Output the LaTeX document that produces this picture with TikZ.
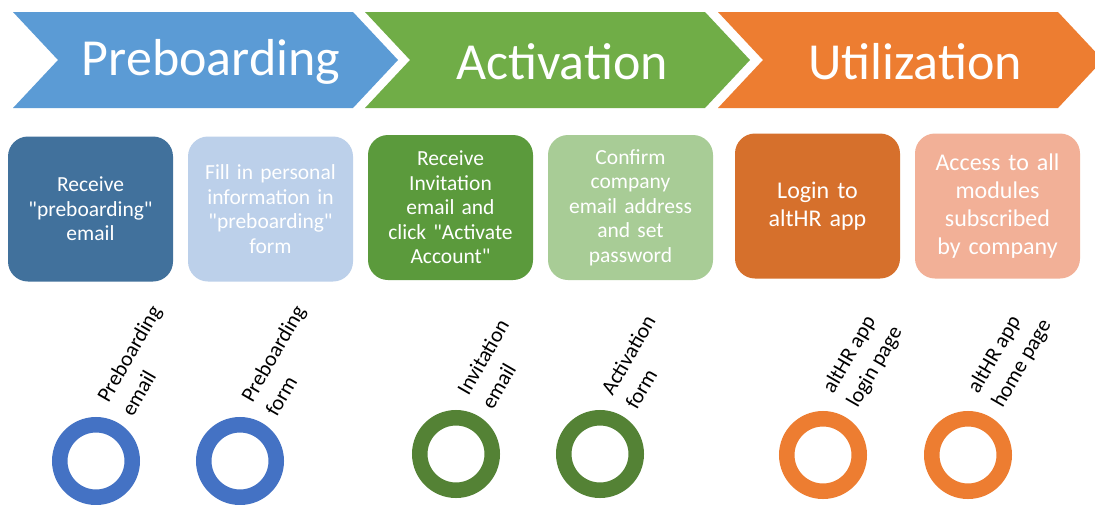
\documentclass[tikz,border=0pt]{standalone}
\usepackage{fontspec}
\setmainfont{Carlito}[Ligatures=TeXOff]
\definecolor{phaseblue}{HTML}{5B9BD5}
\definecolor{phasegreen}{HTML}{70AD47}
\definecolor{phaseorange}{HTML}{ED7D31}
\definecolor{boxA}{HTML}{41719C}
\definecolor{boxB}{HTML}{BCD0EA}
\definecolor{boxC}{HTML}{5B9A3C}
\definecolor{boxD}{HTML}{A8CC96}
\definecolor{boxE}{HTML}{D6702C}
\definecolor{boxF}{HTML}{F2B097}
\definecolor{ringblue}{HTML}{4472C4}
\definecolor{ringgreen}{HTML}{548235}
\definecolor{ringorange}{HTML}{ED7D31}
\begin{document}
\begin{tikzpicture}[x=1pt,y=-1pt,
  phasetitle/.style={text=white,font=\fontsize{52}{60}\selectfont},
  stepbox/.style={rectangle,rounded corners=20pt,minimum width=165pt,minimum height=145pt,
    text width=160pt,align=center,text=white,inner sep=0pt,
    font=\fontsize{21.5}{24.5}\selectfont},
  bigstep/.style={font=\fontsize{24}{28}\selectfont},
  ring/.style={circle,draw=#1,line width=15.5pt,minimum size=72.5pt,inner sep=0pt},
  artefact/.style={rotate=60,anchor=south west,align=left,inner sep=0pt,
    font=\fontsize{21.5}{28}\selectfont}]
\clip (0,0) rectangle (1095,504);
\fill[white] (0,0) rectangle (1095,504);

% phase chevrons
\fill[phaseblue]   (13,12) -- (353,12) -- (398,60) -- (353,108) -- (13,108) -- (58,60) -- cycle;
\fill[phasegreen]  (365,12) -- (705,12) -- (750,60) -- (705,108) -- (365,108) -- (410,60) -- cycle;
\fill[phaseorange] (718,12) -- (1058,12) -- (1103,60) -- (1058,108) -- (718,108) -- (763,60) -- cycle;
\node[phasetitle] (pre) at (211,62) {Preboarding};
\node[phasetitle] (act) at (562,62) {Activation};
\node[phasetitle] (uti) at (915,62) {Utilization};

% steps
\node[stepbox,fill=boxA] (s1) at (90.5,209) {Receive\\"preboarding"\\email};
\node[stepbox,fill=boxB] (s2) at (270.5,209) {Fill in personal\\information in\\"preboarding"\\form};
\node[stepbox,fill=boxC] (s3) at (450.5,207.5) {Receive\\Invitation\\email and\\click "Activate\\Account"};
\node[stepbox,fill=boxD] (s4) at (630.5,207.5) {Confirm\\company\\email address\\and set\\password};
\node[stepbox,bigstep,fill=boxE] (s5) at (817.5,206) {Login to\\altHR app};
\node[stepbox,bigstep,fill=boxF] (s6) at (997.5,206) {Access to all\\modules\\subscribed\\by company};

% artefact markers
\node[ring=ringblue]   (r1) at (96,461) {};
\node[ring=ringblue]   (r2) at (240,461) {};
\node[ring=ringgreen]  (r3) at (456,454) {};
\node[ring=ringgreen]  (r4) at (600,454) {};
\node[ring=ringorange] (r5) at (823,455) {};
\node[ring=ringorange] (r6) at (968,455) {};

\node[artefact] (l1) at ([shift={(37,-43)}]r1.center) {Preboarding\\email};
\node[artefact] (l2) at ([shift={(37,-43)}]r2.center) {Preboarding\\form};
\node[artefact] (l3) at ([shift={(37,-43)}]r3.center) {Invitation\\email};
\node[artefact] (l4) at ([shift={(37,-43)}]r4.center) {Activation\\form};
\node[artefact] (l5) at ([shift={(38,-44)}]r5.center) {altHR app\\login page};
\node[artefact] (l6) at ([shift={(38,-44)}]r6.center) {altHR app\\home page};
\end{tikzpicture}
\end{document}
